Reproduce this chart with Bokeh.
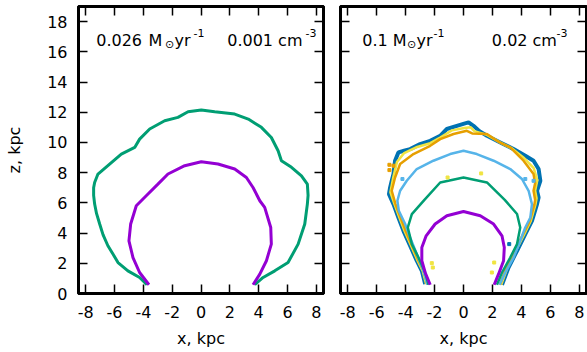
from bokeh.plotting import figure
from bokeh.models import Range1d, LinearAxis, FixedTicker, Label
from bokeh.layouts import row
from bokeh.embed import file_html
from bokeh.resources import INLINE

# ---------------- data ----------------
x_ticks = [-8, -6, -4, -2, 0, 2, 4, 6, 8]
x_tick_labels = ["-8", "-6", "-4", "-2", "0", "2", "4", "6", "8"]
z_ticks = [0, 2, 4, 6, 8, 10, 12, 14, 16, 18]
z_tick_labels = ["0", "2", "4", "6", "8", "10", "12", "14", "16", "18"]

# left panel: 0.026 Msun/yr, 0.001 cm^-3
lg_x = [-3.75, -4.26, -5.07, -5.76, -6.10, -6.46, -6.80, -7.03, -7.25, -7.38, -7.45, -7.45, -7.38, -7.15,
        -6.34, -5.53, -4.60, -4.26, -3.56, -2.52, -1.60, -0.90, 0.02, 0.95, 2.34, 3.28, 4.19, 4.88, 5.35,
        5.58, 6.28, 6.97, 7.38, 7.43, 7.38, 7.20, 6.74, 6.04, 5.12, 4.31, 3.73]
lg_z = [0.58, 1.06, 1.50, 2.05, 2.60, 3.16, 3.90, 4.60, 5.30, 5.92, 6.50, 7.00, 7.35, 7.91, 8.57, 9.23,
        9.67, 10.22, 10.89, 11.44, 11.66, 12.03, 12.15, 12.03, 11.88, 11.55, 11.00, 10.33, 9.45, 8.79,
        8.35, 7.79, 7.24, 6.50, 5.92, 4.60, 3.27, 2.05, 1.50, 1.06, 0.58]
lp_x = [-3.61, -4.26, -4.72, -5.00, -4.88, -4.49, -3.80, -2.99, -2.29, -1.13, 0.02, 1.18, 2.34, 3.15,
        3.61, 4.08, 4.42, 4.84, 4.88, 4.54, 4.08, 3.61]
lp_z = [0.58, 1.39, 2.38, 3.49, 4.60, 5.81, 6.47, 7.24, 7.91, 8.46, 8.72, 8.57, 8.24, 7.68, 7.02, 6.14,
        5.70, 4.37, 3.27, 2.17, 1.28, 0.58]

# right panel: 0.1 Msun/yr, 0.02 cm^-3
rb_x = [-2.65, -2.88, -3.23, -3.69, -4.15, -4.50, -4.84, -5.15, -5.07, -4.95, -4.84, -4.73, -4.50, -4.10,
        -3.69, -3.00, -2.30, -1.61, -1.15, -0.46, 0.05, 0.35, 0.69, 1.10, 1.62, 2.54, 3.46, 4.27, 4.84,
        5.19, 5.31, 5.08, 5.19, 5.08, 4.73, 4.27, 3.70, 3.11, 2.66]
rb_z = [0.62, 1.50, 2.17, 3.16, 4.15, 5.03, 5.92, 6.58, 7.02, 7.50, 7.91, 8.79, 9.34, 9.45, 9.56, 9.89,
        10.11, 10.44, 10.89, 11.10, 11.25, 11.33, 11.10, 10.75, 10.44, 10.00, 9.56, 9.12, 8.79, 8.24,
        7.46, 6.80, 6.36, 5.92, 4.81, 3.93, 2.83, 1.72, 0.58]
ry_x = [-2.58, -2.82, -3.17, -3.62, -4.08, -4.43, -4.77, -5.05, -4.85, -4.60, -4.10, -3.20, -2.30, -1.61,
        -0.80, 0.05, 0.50, 0.75, 1.62, 2.52, 3.35, 4.20, 4.85, 5.10, 4.95, 5.05, 4.98, 4.65, 4.20, 3.62,
        3.04, 2.60]
ry_z = [0.62, 1.50, 2.17, 3.16, 4.15, 5.03, 5.92, 6.70, 7.70, 8.70, 9.30, 9.70, 9.95, 10.33, 10.80,
        10.95, 11.00, 10.75, 10.50, 10.00, 9.60, 8.95, 8.30, 7.50, 6.80, 6.30, 5.92, 4.81, 3.93, 2.83,
        1.72, 0.58]
ro_x = [-2.50, -2.75, -3.10, -3.55, -4.00, -4.35, -4.70, -4.96, -4.73, -4.38, -3.46, -2.30, -1.61, -0.69,
        0.23, 0.60, 1.62, 2.50, 3.23, 4.15, 4.84, 4.95, 4.84, 4.95, 4.90, 4.58, 4.12, 3.55, 2.96, 2.52]
ro_z = [0.62, 1.50, 2.17, 3.16, 4.15, 5.03, 5.92, 6.80, 7.68, 8.57, 9.23, 9.78, 10.22, 10.56, 10.77,
        10.60, 10.56, 10.00, 9.67, 8.79, 7.91, 7.30, 6.80, 6.20, 5.90, 4.81, 3.93, 2.83, 1.72, 0.58]
rl_x = [-2.49, -2.77, -3.23, -3.69, -4.03, -4.47, -4.57, -4.38, -3.92, -3.23, -2.08, -0.92, 0.00, 0.92,
        2.08, 3.23, 4.04, 4.50, 4.73, 4.62, 4.27, 3.92, 3.46, 2.89, 2.49]
rl_z = [0.58, 1.50, 2.61, 3.71, 4.60, 5.48, 6.14, 6.80, 7.46, 8.24, 8.79, 9.23, 9.45, 9.23, 8.79, 8.24,
        7.58, 6.80, 5.92, 5.03, 4.37, 3.49, 2.38, 1.39, 0.58]
rg_x = [-2.42, -2.65, -3.11, -3.57, -3.85, -3.57, -2.70, -1.61, 0.00, 1.62, 2.85, 3.70, 3.92, 3.70, 3.23,
        2.66, 2.31]
rg_z = [0.58, 1.39, 2.38, 3.27, 4.37, 5.26, 6.20, 7.35, 7.68, 7.35, 6.20, 5.26, 4.37, 3.27, 2.38, 1.39, 0.58]
rp_x = [-2.30, -2.65, -2.88, -2.88, -2.58, -1.96, -1.15, 0.00, 1.16, 2.08, 2.66, 2.82, 2.77, 2.42, 2.12]
rp_z = [0.58, 1.39, 2.17, 3.05, 3.82, 4.60, 5.15, 5.43, 5.15, 4.60, 3.82, 3.05, 2.17, 1.28, 0.58]

# scattered cells (right panel)
dot_o_x = [-5.12, -5.12, -4.84]
dot_o_z = [8.52, 8.17, 8.46]
dot_l_x = [-4.22, 4.27, 4.84]
dot_l_z = [7.58, 7.58, 7.46]
dot_y_x = [-1.10, 1.22, -2.19, -2.12, 2.12, 1.96]
dot_y_z = [7.68, 7.95, 2.01, 1.72, 2.05, 1.39]
dot_b_x = [3.16]
dot_b_z = [3.27]

FONT = "DejaVu Sans"
PURPLE, GREEN, LBLUE, ORANGE, YELLOW, BLUE = "#9400d3", "#009e73", "#56b4e9", "#e69f00", "#f0e442", "#0072b2"


def style_axis(ax, ticks, labels, show):
    ax.ticker = FixedTicker(ticks=ticks)
    ax.major_tick_in = 9
    ax.major_tick_out = 0
    ax.minor_tick_line_color = None
    ax.major_tick_line_width = 1.5
    ax.major_tick_line_color = "black"
    ax.axis_line_width = 3
    ax.axis_line_color = "black"
    ax.major_label_text_font = FONT
    ax.axis_label_text_font = FONT
    ax.axis_label_text_font_size = "16px"
    ax.axis_label_text_font_style = "normal"
    ax.axis_label_text_color = "black"
    if show:
        ax.major_label_overrides = {t: l for t, l in zip(ticks, labels)}
        ax.major_label_text_font_size = "16px"
        ax.major_label_text_color = "black"
    else:
        ax.major_label_text_font_size = "1px"
        ax.major_label_text_color = None
        ax.major_label_standoff = 0


def make_fig(width, min_left, min_right, ylabels):
    p = figure(width=width, height=352, output_backend="svg", toolbar_location=None, tools="",
               x_range=Range1d(-8.5, 8.5), y_range=Range1d(0, 19.0),
               min_border_left=min_left, min_border_right=min_right,
               min_border_top=6, min_border_bottom=59)
    p.xgrid.visible = False
    p.ygrid.visible = False
    p.outline_line_color = "black"
    p.outline_line_width = 3
    p.background_fill_color = "white"
    p.border_fill_color = "white"
    below = p.below[0]
    left = p.left[0]
    style_axis(below, x_ticks, x_tick_labels, True)
    below.major_label_standoff = 12
    below.axis_label = "x, kpc"
    below.axis_label_standoff = 8
    style_axis(left, z_ticks, z_tick_labels, ylabels)
    if ylabels:
        left.major_label_standoff = 11
        left.axis_label = "z, kpc"
        left.axis_label_standoff = 20
    top = LinearAxis()
    style_axis(top, x_ticks, x_tick_labels, False)
    p.add_layout(top, "above")
    right = LinearAxis()
    style_axis(right, z_ticks, z_tick_labels, False)
    p.add_layout(right, "right")
    return p


def add_text(p, x, y, text, size="16px", baseline="alphabetic"):
    p.add_layout(Label(x=x, y=y, text=text, text_font=FONT, text_font_size=size,
                       text_baseline=baseline, text_align="left", text_color="black"))


# left figure
p1 = make_fig(331, 78, 8, True)
p1.line(lg_x, lg_z, line_color=GREEN, line_width=3)
p1.line(lp_x, lp_z, line_color=PURPLE, line_width=3)
add_text(p1, -7.27, 16.75, "0.026")
add_text(p1, -3.64, 16.75, "M")
add_text(p1, -2.50, 16.49, "\u2299", size="11px", baseline="middle")
add_text(p1, -1.84, 16.75, "yr")
add_text(p1, -0.52, 17.22, "-1", size="11px")
add_text(p1, 1.82, 16.75, "0.001 cm")
add_text(p1, 7.25, 17.22, "-3", size="11px")

# right figure
p2 = make_fig(256, 9, 1, False)
p2.line(rb_x, rb_z, line_color=BLUE, line_width=4)
p2.line(ry_x, ry_z, line_color=YELLOW, line_width=2.5)
p2.line(ro_x, ro_z, line_color=ORANGE, line_width=2.5)
p2.line(rl_x, rl_z, line_color=LBLUE, line_width=2.5)
p2.line(rg_x, rg_z, line_color=GREEN, line_width=2.5)
p2.line(rp_x, rp_z, line_color=PURPLE, line_width=3)
p2.scatter(dot_o_x, dot_o_z, marker="square", size=3, color=ORANGE)
p2.scatter(dot_l_x, dot_l_z, marker="square", size=3, color=LBLUE)
p2.scatter(dot_y_x, dot_y_z, marker="square", size=3, color=YELLOW)
p2.scatter(dot_b_x, dot_b_z, marker="square", size=3, color=BLUE)
add_text(p2, -7.00, 16.75, "0.1 M")
add_text(p2, -3.90, 16.49, "\u2299", size="11px", baseline="middle")
add_text(p2, -3.25, 16.75, "yr")
add_text(p2, -2.07, 17.22, "-1", size="11px")
add_text(p2, 1.96, 16.75, "0.02 cm")
add_text(p2, 6.43, 17.22, "-3", size="11px")

layout = row(p1, p2)
open("out.html", "w").write(file_html(layout, INLINE))
